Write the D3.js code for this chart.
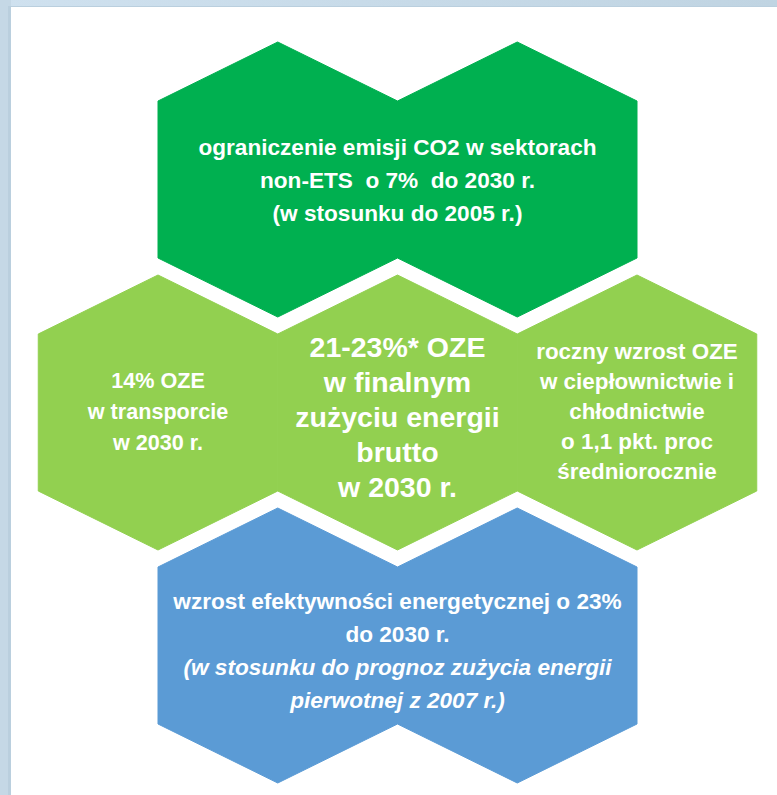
<!DOCTYPE html>
<html>
<head>
<meta charset="utf-8">
<script src="https://cdn.jsdelivr.net/npm/d3@7"></script>
<style>
  html, body { margin: 0; padding: 0; background: #fff; }
  svg { display: block; }
  svg text { white-space: pre; }
</style>
</head>
<body>
<svg id="chart" width="777" height="795"></svg>
<script>
// honeycomb cells: row, column (in half-cell steps), colour group
var cellRows = [0, 0, 1, 1, 1, 2, 2];
var cellCols = [1, 3, 0, 2, 4, 1, 3];
var cellGroups = ['co2', 'co2', 'oze', 'oze', 'oze', 'eff', 'eff'];
var groupColors = { co2: '#00B050', oze: '#92D050', eff: '#5B9BD5' };

// text blocks: row, column, lines, italic lines
var labelRows = [0, 1, 1, 1, 2];
var labelCols = [2, 0, 2, 4, 2];
var labelLines = [
  ['ograniczenie emisji CO2 w sektorach', 'non-ETS  o 7%  do 2030 r.', '(w stosunku do 2005 r.)'],
  ['14% OZE', 'w transporcie', 'w 2030 r.'],
  ['21-23%* OZE', 'w finalnym', 'zużyciu energii', 'brutto', 'w 2030 r.'],
  ['roczny wzrost OZE', 'w ciepłownictwie i', 'chłodnictwie', 'o 1,1 pkt. proc', 'średniorocznie'],
  ['wzrost efektywności energetycznej o 23%', 'do 2030 r.', '(w stosunku do prognoz zużycia energii', 'pierwotnej z 2007 r.)']
];
var labelItalicFrom = [99, 99, 99, 99, 2];
var labelSizes = [22.6, 21.6, 28.5, 22.4, 22.6];
var labelLeading = [33, 31, 35, 30, 33];
var labelShift = [1, -1, 5, -1, 5];

var svg = d3.select('#chart');

// window frame
var frame = svg.append('defs').append('linearGradient').attr('id', 'frameGrad')
  .attr('x1', 0).attr('x2', 1).attr('y1', 0).attr('y2', 0);
frame.append('stop').attr('offset', 0).attr('stop-color', '#CFE1EF');
frame.append('stop').attr('offset', 1).attr('stop-color', '#C0D4E2');
svg.append('rect').attr('x', 0).attr('y', 0).attr('width', 777).attr('height', 7).attr('fill', 'url(#frameGrad)');
svg.append('rect').attr('x', 0).attr('y', 0).attr('width', 11).attr('height', 795).attr('fill', '#C5D8E6');
svg.append('rect').attr('x', 8).attr('y', 6).attr('width', 3).attr('height', 789).attr('fill', '#BACFDE');
svg.append('rect').attr('x', 8).attr('y', 6).attr('width', 769).attr('height', 1).attr('fill', '#BACFDE');

var x = d3.scaleLinear().domain([0, 4]).range([158, 637]);
var y = d3.scaleLinear().domain([0, 2]).range([179.5, 645.5]);

var halfW = x(1) - x(0),
    halfH = 137.5,
    shoulder = 78.5;

function hexPoints(cx, cy) {
  return [
    [cx, cy - halfH], [cx + halfW, cy - shoulder], [cx + halfW, cy + shoulder],
    [cx, cy + halfH], [cx - halfW, cy + shoulder], [cx - halfW, cy - shoulder]
  ];
}

var line = d3.line();

svg.append('g').selectAll('path')
  .data(cellRows.map(function (r, i) { return { row: r, col: cellCols[i], group: cellGroups[i] }; }))
  .enter().append('path')
    .attr('d', function (d) { return line(hexPoints(x(d.col), y(d.row))) + 'Z'; })
    .attr('fill', function (d) { return groupColors[d.group]; })
    .attr('stroke', function (d) { return groupColors[d.group]; })
    .attr('stroke-width', 1);

var labels = svg.append('g')
  .attr('font-family', '"Liberation Sans", Arial, sans-serif')
  .attr('font-weight', 'bold')
  .attr('fill', '#fff')
  .attr('text-anchor', 'middle');

labelRows.forEach(function (r, i) {
  var lines = labelLines[i],
      lead = labelLeading[i],
      cx = x(labelCols[i]),
      cy = y(r) + labelShift[i];
  var t = labels.append('text')
    .attr('xml:space', 'preserve')
    .attr('font-size', labelSizes[i]);
  lines.forEach(function (s, k) {
    t.append('tspan')
      .attr('x', cx)
      .attr('y', cy + (k - (lines.length - 1) / 2) * lead)
      .attr('dy', '0.35em')
      .attr('font-style', k >= labelItalicFrom[i] ? 'italic' : 'normal')
      .text(s);
  });
});
</script>
</body>
</html>
